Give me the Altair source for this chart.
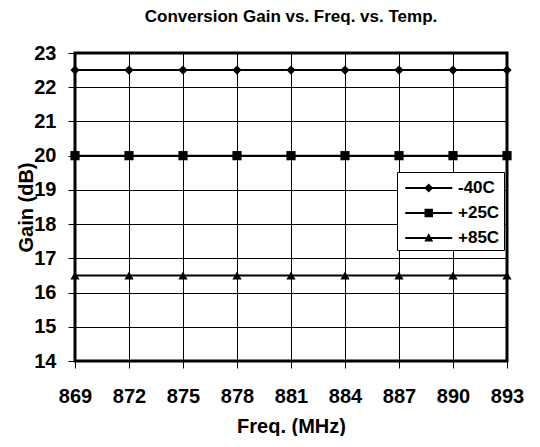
import altair as alt
import pandas as pd

freqs = [869, 872, 875, 878, 881, 884, 887, 890, 893]
gain_m40 = [22.5, 22.5, 22.5, 22.5, 22.5, 22.5, 22.5, 22.5, 22.5]
gain_p25 = [20.0, 20.0, 20.0, 20.0, 20.0, 20.0, 20.0, 20.0, 20.0]
gain_p85 = [16.5, 16.5, 16.5, 16.5, 16.5, 16.5, 16.5, 16.5, 16.5]
series = ["-40C", "+25C", "+85C"]
y_ticks = [14, 15, 16, 17, 18, 19, 20, 21, 22, 23]

rows = []
for name, vals in zip(series, [gain_m40, gain_p25, gain_p85]):
    for f, g in zip(freqs, vals):
        rows.append({"freq": f, "gain": g, "series": name})
df = pd.DataFrame(rows)
legend_df = df[df["freq"] == 881]

FONT = "Liberation Sans, Arial, Helvetica, sans-serif"

x_enc = alt.X("freq:Q",
              scale=alt.Scale(domain=[869, 893], nice=False, zero=False),
              axis=alt.Axis(values=freqs, format="d", title="Freq. (MHz)",
                            labelOverlap=False, labelFlush=False))
y_enc = alt.Y("gain:Q",
              scale=alt.Scale(domain=[14, 23], nice=False, zero=False),
              axis=alt.Axis(values=y_ticks, format="d", title="Gain (dB)",
                            labelOverlap=False, labelFlush=False,
                            titleX=-49, titleY=154, titleAngle=-90,
                            titleBaseline="middle"))

lines = alt.Chart(df).mark_line(color="black", strokeWidth=2).encode(
    x=x_enc, y=y_enc, detail="series:N")

points = alt.Chart(df).mark_point(filled=True, color="black", size=85, opacity=1).encode(
    x=x_enc, y=y_enc,
    shape=alt.Shape("series:N",
                    scale=alt.Scale(domain=series, range=["diamond", "square", "triangle-up"]),
                    legend=None))

# legend symbols: a line with the marker in its middle (filled paths only)
bar = "M-1,-0.09L3,-0.09L3,0.09L-1,0.09Z"
p_diamond = bar + "M1,-0.38L1.38,0L1,0.38L0.62,0Z"
p_square = bar + "M0.64,-0.36L1.36,-0.36L1.36,0.36L0.64,0.36Z"
p_triangle = bar + "M1,-0.4L1.38,0.3L0.62,0.3Z"

legend_layer = alt.Chart(legend_df).mark_point(
    filled=True, color="black", size=552, opacity=0
).encode(
    x=x_enc, y=y_enc,
    shape=alt.Shape("series:N",
                    scale=alt.Scale(domain=series, range=[p_diamond, p_square, p_triangle]),
                    legend=alt.Legend(title=None, orient="none", legendX=322, legendY=119,
                                      symbolSize=552, symbolFillColor="black",
                                      symbolStrokeWidth=0, symbolOffset=4,
                                      labelFont=FONT, labelFontSize=17, labelFontWeight="bold",
                                      labelColor="black", labelOffset=29,
                                      strokeColor="black", fillColor="white",
                                      padding=4, rowPadding=5))
)

chart = alt.layer(lines, points, legend_layer).resolve_scale(shape="independent").properties(
    width=432, height=308,
    title=alt.TitleParams("Conversion Gain vs. Freq. vs. Temp.", font=FONT, fontSize=17,
                          fontWeight="bold", color="black", anchor="middle", offset=17),
    padding={"left": 8, "top": 0, "right": 5, "bottom": 0},
).configure_view(
    stroke="black", strokeWidth=3
).configure_axis(
    labelFont=FONT, labelFontSize=20, labelFontWeight="bold", labelColor="black",
    titleFont=FONT, titleFontSize=20, titleFontWeight="bold", titleColor="black",
    grid=True, gridColor="black", gridWidth=1, gridOpacity=1,
    tickColor="black", tickSize=7, tickWidth=1, domain=False,
).configure_axisX(
    labelPadding=18, titlePadding=10
).configure_axisY(
    labelPadding=12
)

chart.save("out.html", embed_options={"renderer": "svg", "actions": False})
